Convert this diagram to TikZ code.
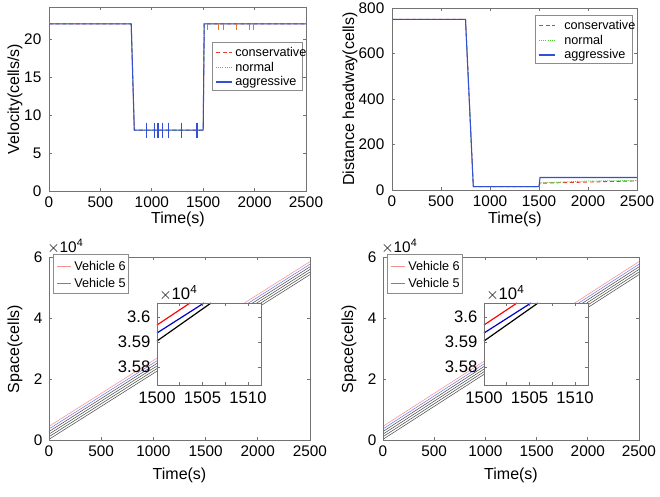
\documentclass[tikz,border=0pt]{standalone}
\usepackage{fontspec}
\setmainfont{Liberation Sans}
\definecolor{mblue}{RGB}{50,80,210}
\definecolor{mred}{RGB}{230,60,40}
\definecolor{mgreen}{RGB}{80,200,60}
\definecolor{morange}{RGB}{220,120,40}
\definecolor{lred}{RGB}{245,140,140}
\definecolor{lblue}{RGB}{110,120,235}
\begin{document}
\begin{tikzpicture}[x=0.75pt,y=-0.75pt,
  ax/.style={color=black!55,line width=0.5pt},
  tk/.style={font=\fontsize{11.5}{13}\selectfont,text=black},
  it/.style={font=\fontsize{12.5}{14}\selectfont,text=black},
  lab/.style={font=\fontsize{12}{14}\selectfont,text=black},
  lg/.style={font=\fontsize{9.5}{11}\selectfont,anchor=west,inner sep=0pt,text=black},
  bl/.style={color=mblue,line width=0.8pt},
  rd/.style={color=mred,line width=0.7pt,dash pattern=on 3pt off 2pt},
  gr/.style={color=mgreen,line width=0.6pt,dash pattern=on 0.8pt off 0.8pt}]
\useasboundingbox (0,0) rectangle (660,496);
% ===== top-left =====
\foreach \v in {0,5,10,15,20}{\pgfmathsetmacro\yy{191-7.6*\v}
  \draw[ax] (49,\yy)--(52,\yy); \draw[ax] (306,\yy)--(303,\yy);
  \node[tk,anchor=east] at (46,\yy) {\v};}
\foreach \t in {0,500,1000,1500,2000,2500}{\pgfmathsetmacro\xx{49+0.1028*\t}
  \draw[ax] (\xx,191)--(\xx,188); \draw[ax] (\xx,7)--(\xx,10);
  \node[tk,anchor=north] at (\xx,192) {\t};}
\draw[rd] (49,23.8)--(131.2,23.8)--(134.3,130.2)--(203.2,130.2)--(204.2,23.8)--(306,23.8);
\draw[gr] (49,23.8)--(131.2,23.8)--(134.3,130.2)--(203.2,130.2)--(204.2,23.8)--(306,23.8);
\draw[bl] (49,23.8)--(131.2,23.8)--(134.3,130.2)--(203.2,130.2)--(204.2,23.8)--(306,23.8);
\foreach \t in {950,1030,1060,1100,1160,1290,1440}{\pgfmathsetmacro\xx{49+0.1028*\t}
  \draw[bl] (\xx,122.6)--(\xx,137.8);}
\foreach \t in {1540,1650,1700,1820,1950,1990}{\pgfmathsetmacro\xx{49+0.1028*\t}
  \draw[color=morange,line width=0.6pt] (\xx,23.8)--(\xx,30);}
\draw[ax] (49,7) rectangle (306,191);
\node[lab] at (178,219) {Time(s)};
\node[lab,rotate=90] at (15,99) {Velocity(cells/s)};
% ===== top-right =====
\foreach \v in {0,200,400,600,800}{\pgfmathsetmacro\yy{190-0.2275*\v}
  \draw[ax] (392,\yy)--(395,\yy); \draw[ax] (637,\yy)--(634,\yy);
  \node[tk,anchor=east] at (389,\yy) {\v};}
\foreach \t in {0,500,1000,1500,2000,2500}{\pgfmathsetmacro\xx{392+0.098*\t}
  \draw[ax] (\xx,190)--(\xx,187); \draw[ax] (\xx,8)--(\xx,11);
  \node[tk,anchor=north] at (\xx,191) {\t};}
\draw[rd] (392,19.4)--(465.5,19.4)--(473.3,186.6)--(539,186.6)--(540,183.2)--(637,180.9);
\draw[gr] (392,19.4)--(465.5,19.4)--(473.3,186.6)--(539,186.6)--(540,182.8)--(588,181)--(637,180.5);
\draw[bl] (392,19.4)--(465.5,19.4)--(473.3,186.6)--(539,186.6)--(540,177.5)--(637,177.5);
\draw[ax] (392,8) rectangle (637,190);
\node[lab] at (515,219) {Time(s)};
\node[lab,rotate=90] at (350,99) {Distance headway(cells)};
% ===== bottom panels =====
\foreach \ox/\w/\ix in {49/261/157,383/256/484}{
  \pgfmathsetmacro\sx{\w/2500}
  \foreach \v in {0,2,4,6}{\pgfmathsetmacro\yy{440-30.5*\v}
    \draw[ax] (\ox,\yy)--(\ox+3,\yy); \draw[ax] (\ox+\w,\yy)--(\ox+\w-3,\yy);
    \node[tk,anchor=east] at (\ox-2,\yy) {\v};}
  \foreach \t in {0,500,1000,1500,2000,2500}{\pgfmathsetmacro\xx{\ox+\sx*\t}
    \draw[ax] (\xx,440)--(\xx,437); \draw[ax] (\xx,257)--(\xx,260);
    \node[tk,anchor=north] at (\xx,441) {\t};}
  \foreach \k/\c in {0/lred,1/lblue,2/black!70,3/black!70,4/black!70,5/black!70}{
    \draw[color=\c,line width=0.4pt] (\ox,440-13.7+\k*2.6) -- (\ox+\w,440-178.4+\k*2.6);}
  \draw[ax] (\ox,257) rectangle (\ox+\w,440);
  \node[lab] at (\ox+0.5*\w,475) {Time(s)};
  \node[lab,rotate=90] at (\ox-34,349) {Space(cells)};
  \node[tk,anchor=south west,inner sep=0pt] at (\ox-2,254) {$\times$10\textsuperscript{4}};
  % inset
  \fill[white] (\ix,303) rectangle (\ix+104,385);
  \draw[red,line width=0.9pt] (\ix,325)--(\ix+33,303);
  \draw[blue!80!black,line width=0.9pt] (\ix,333)--(\ix+47,303);
  \draw[black,line width=0.9pt] (\ix,341)--(\ix+54,303);
  \foreach \v/\yy in {3.6/317,3.59/342,3.58/367}{
    \draw[ax] (\ix,\yy)--(\ix+3,\yy); \draw[ax] (\ix+104,\yy)--(\ix+101,\yy);
    \node[it,anchor=east] at (\ix-2,\yy) {\v};}
  \foreach \t/\xx in {1500/0,1505/45.5,1510/91}{
    \draw[ax] (\ix+\xx,385)--(\ix+\xx,382); \draw[ax] (\ix+\xx,303)--(\ix+\xx,306);
    \node[it,anchor=north] at (\ix+\xx,387) {\t};}
  \foreach \xx in {22.75,68.25}{\draw[ax] (\ix+\xx,385)--(\ix+\xx,382); \draw[ax] (\ix+\xx,303)--(\ix+\xx,306);}
  \draw[ax] (\ix,303) rectangle (\ix+104,385);
  \node[it,anchor=south west,inner sep=0pt] at (\ix+2,301) {$\times$10\textsuperscript{4}};
}
% ===== legends =====
\filldraw[fill=white,draw=black!45,line width=0.4pt] (212,42) rectangle (302,90);
\draw[rd] (216,52)--(232,52);
\draw[gr] (216,67)--(232,67);
\draw[bl] (216,82)--(232,82);
\filldraw[fill=white,draw=black!45,line width=0.4pt] (535,15) rectangle (632,63);
\draw[rd] (539,25)--(555,25);
\draw[gr] (539,40)--(555,40);
\draw[bl] (539,55)--(555,55);
\foreach \ox in {49,383}{
  \filldraw[fill=white,draw=black!45,line width=0.4pt] (\ox+4,254) rectangle (\ox+79,293);
  \draw[color=lred,line width=0.7pt] (\ox+8,266)--(\ox+22,266);
  \draw[color=lblue,line width=0.7pt] (\ox+8,283)--(\ox+22,283);}
\node[lg] at (235,52) {conservative};
\node[lg] at (235,67) {normal};
\node[lg] at (235,82) {aggressive};
\node[lg] at (564,25) {conservative};
\node[lg] at (564,40) {normal};
\node[lg] at (564,55) {aggressive};
\foreach \ox in {49,383}{
  \node[lg] at (\ox+25,266) {Vehicle 6};
  \node[lg] at (\ox+25,283) {Vehicle 5};}
\end{tikzpicture}
\end{document}
